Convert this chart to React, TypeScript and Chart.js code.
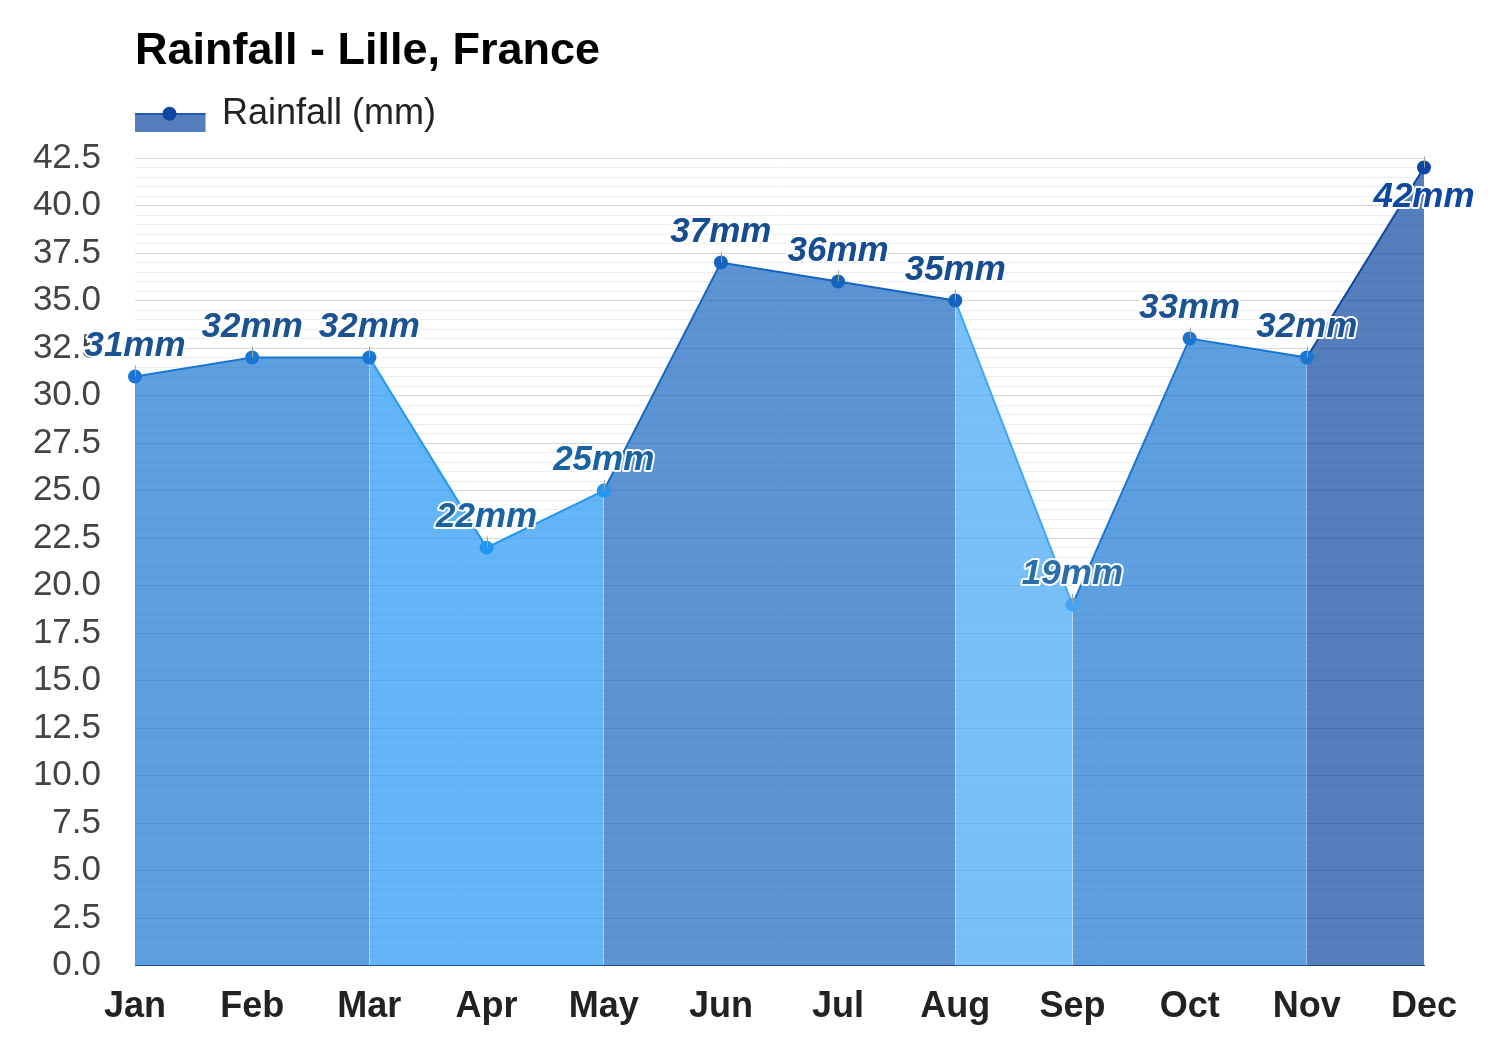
import React, { useEffect, useRef } from 'react';
import { Chart, registerables } from 'chart.js';

Chart.register(...registerables);

const months = ['Jan', 'Feb', 'Mar', 'Apr', 'May', 'Jun', 'Jul', 'Aug', 'Sep', 'Oct', 'Nov', 'Dec'];
const rainfall = [31, 32, 32, 22, 25, 37, 36, 35, 19, 33, 32, 42];
const yMin = 0;
const yMax = 42.5;
const yMajorStep = 2.5;
const yMinorStep = 0.5;
const titleText = 'Rainfall - Lille, France';
const seriesLabel = 'Rainfall (mm)';
const unit = 'mm';

const FONT = '"Liberation Sans", Arial, Helvetica, sans-serif';

function pointColor(v: number): string {
  if (v >= 40) return '#0D47A1';
  if (v >= 35) return '#1565C0';
  if (v >= 26) return '#1976D2';
  if (v >= 20) return '#2196F3';
  return '#42A5F5';
}

function hexToRgba(hex: string, a: number): string {
  const n = parseInt(hex.slice(1), 16);
  return `rgba(${(n >> 16) & 255},${(n >> 8) & 255},${n & 255},${a})`;
}

function fillColor(v: number): string {
  return hexToRgba(pointColor(v), 0.7);
}

function labelColor(v: number): string {
  if (v >= 40) return '#0D47A1';
  if (v >= 35) return '#164C90';
  if (v >= 26) return '#1A5292';
  if (v >= 20) return '#1A63A3';
  return '#2B6EA9';
}

function isMajor(v: number): boolean {
  const r = v / yMajorStep;
  return Math.abs(r - Math.round(r)) < 1e-6;
}

const dataLabelPlugin = {
  id: 'rainDataLabels',
  afterDatasetsDraw(chart: any) {
    const { ctx, chartArea } = chart;
    const meta = chart.getDatasetMeta(0);
    ctx.save();
    ctx.font = `italic bold 35px ${FONT}`;
    ctx.textAlign = 'center';
    ctx.textBaseline = 'middle';
    meta.data.forEach((pt: any, i: number) => {
      const v = rainfall[i];
      const x = pt.x;
      const y = pt.y;
      ctx.strokeStyle = '#a0a0a0';
      ctx.lineWidth = 1;
      ctx.beginPath();
      ctx.moveTo(Math.round(x) + 0.5, y);
      ctx.lineTo(Math.round(x) + 0.5, y - 11);
      ctx.stroke();
      let ly = y - 30;
      if (ly - 16 < chartArea.top) ly = y + 30;
      const text = `${v}${unit}`;
      ctx.lineJoin = 'round';
      ctx.lineWidth = 4;
      ctx.strokeStyle = 'rgba(255,255,255,0.95)';
      ctx.strokeText(text, x, ly);
      ctx.fillStyle = labelColor(v);
      ctx.fillText(text, x, ly);
    });
    ctx.restore();
  },
};

function makeLegendImage(): HTMLCanvasElement {
  const img = document.createElement('canvas');
  img.width = 75;
  img.height = 40;
  const c = img.getContext('2d')!;
  c.fillStyle = fillColor(42);
  c.fillRect(1.5, 19, 72, 19);
  c.strokeStyle = '#1F58B0';
  c.lineWidth = 2;
  c.beginPath();
  c.moveTo(1.5, 20);
  c.lineTo(73.5, 20);
  c.stroke();
  c.fillStyle = '#0D47A1';
  c.beginPath();
  c.arc(37.5, 19.7, 7, 0, Math.PI * 2);
  c.fill();
  return img;
}

export default function App() {
  const canvasRef = useRef<HTMLCanvasElement | null>(null);

  useEffect(() => {
    if (!canvasRef.current) return;
    const legendImg = makeLegendImage();
    const chart = new Chart(canvasRef.current, {
      type: 'line',
      data: {
        labels: months,
        datasets: [
          {
            label: seriesLabel,
            data: rainfall,
            fill: 'origin',
            borderWidth: 2,
            borderColor: pointColor(42),
            backgroundColor: fillColor(42),
            pointRadius: 7,
            pointHoverRadius: 7,
            pointBorderWidth: 0,
            pointBackgroundColor: rainfall.map(pointColor),
            pointBorderColor: rainfall.map(pointColor),
            tension: 0,
            clip: false as any,
            segment: {
              borderColor: (ctx: any) => pointColor(ctx.p1.parsed.y),
              backgroundColor: (ctx: any) => fillColor(ctx.p1.parsed.y),
            },
          },
        ],
      },
      plugins: [dataLabelPlugin],
      options: {
        responsive: false,
        animation: false,
        devicePixelRatio: 1,
        layout: { padding: { left: 0, right: 76, top: 0, bottom: 1 } },
        font: { family: FONT },
        plugins: {
          title: {
            display: true,
            text: titleText,
            align: 'start',
            fullSize: false,
            color: '#000',
            font: { family: FONT, size: 45, weight: 'bold' },
            padding: { top: 25, bottom: 17 },
          },
          subtitle: {
            display: true,
            text: '',
            weight: 500,
            fullSize: false,
            font: { family: FONT, size: 10 },
            padding: { top: 0, bottom: 4 },
          } as any,
          legend: {
            display: true,
            position: 'top',
            align: 'start',
            fullSize: false,
            labels: {
              usePointStyle: true,
              pointStyleWidth: 69,
              padding: 0,
              color: '#222',
              font: { family: FONT, size: 36 },
              generateLabels: () => [
                {
                  text: seriesLabel,
                  pointStyle: legendImg,
                  fillStyle: fillColor(42),
                  strokeStyle: '#1F58B0',
                  lineWidth: 0,
                  hidden: false,
                  datasetIndex: 0,
                  fontColor: '#222',
                } as any,
              ],
            },
          },
          tooltip: { enabled: false },
        },
        scales: {
          x: {
            type: 'category',
            offset: false,
            grid: { display: false, drawTicks: false },
            border: { display: true, color: '#1E3F70', width: 1 },
            ticks: {
              color: '#222',
              padding: 20,
              font: { family: FONT, size: 36, weight: 'bold' },
              maxRotation: 0,
              autoSkip: false,
            },
          },
          y: {
            type: 'linear',
            min: yMin,
            max: yMax,
            grid: {
              drawTicks: false,
              color: (ctx: any) => (isMajor(ctx.tick.value) ? '#d9d9d9' : '#ececf0'),
              lineWidth: 1,
            },
            border: { display: false },
            ticks: {
              stepSize: yMinorStep,
              autoSkip: false,
              color: '#444',
              padding: 34,
              font: { family: FONT, size: 35 },
              callback: (value: any) => (isMajor(Number(value)) ? Number(value).toFixed(1) : ''),
            },
            afterFit: (scale: any) => {
              scale.width = 135;
            },
          },
        },
      },
    });
    return () => chart.destroy();
  }, []);

  return (
    <div style={{ position: 'fixed', left: 0, top: 0, width: 1500, height: 1050, background: '#fff' }}>
      <canvas ref={canvasRef} width={1500} height={1050} style={{ display: 'block', width: 1500, height: 1050 }} />
    </div>
  );
}
